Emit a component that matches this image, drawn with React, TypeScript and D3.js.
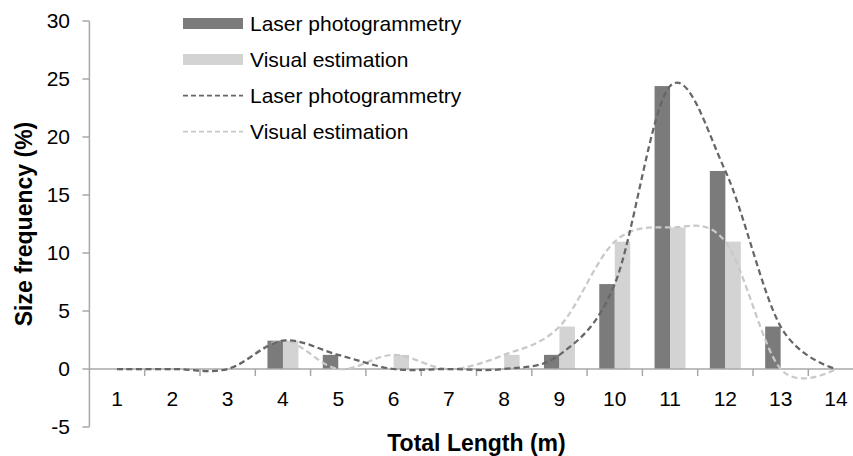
import React from "react";
import * as d3 from "d3";

const categories = [1, 2, 3, 4, 5, 6, 7, 8, 9, 10, 11, 12, 13, 14];
const laserValues = [0, 0, 0, 2.44, 1.22, 0, 0, 0, 1.22, 7.32, 24.39, 17.07, 3.66, 0];
const visualValues = [0, 0, 0, 2.44, 0, 1.22, 0, 1.22, 3.66, 10.98, 12.2, 10.98, 0, 0];
const yTicks = [-5, 0, 5, 10, 15, 20, 25, 30];
const seriesNames = ["Laser photogrammetry", "Visual estimation"];

const W = 853;
const H = 456;
const FONT = "'Liberation Sans', Arial, Helvetica, sans-serif";
const DARK_BAR = "#7b7b7b";
const LIGHT_BAR = "#d3d3d3";
const DARK_LINE = "#666666";
const LIGHT_LINE = "#c9c9c9";
const AXIS = "#a8a8a8";

export default function App() {
  React.useEffect(() => {
    document.body.style.margin = "0";
  }, []);

  const left = 89.4;
  const step = 55.3;
  const x = d3
    .scaleBand<number>()
    .domain(categories)
    .range([left, left + step * categories.length])
    .padding(0);
  const bw = x.bandwidth();
  const inner = d3
    .scaleBand<string>()
    .domain(["laser", "visual"])
    .range([bw * 0.22, bw * 0.78])
    .padding(0);
  const y = d3.scaleLinear().domain([-5, 30]).range([427, 21]);
  const y0 = y(0);

  const cx = (c: number) => (x(c) as number) + bw / 2;
  const line = d3
    .line<number>()
    .x((_, i) => cx(categories[i]))
    .y((v) => y(v))
    .curve(d3.curveCardinal.tension(0));

  const boundaries = categories.map((c) => (x(c) as number) + bw);

  const legendY = [23.5, 59.5, 95.5, 131.5];

  return (
    <svg
      width={W}
      height={H}
      style={{ display: "block", position: "absolute", left: 0, top: 0, background: "#fff" }}
      fontFamily={FONT}
    >
      <rect x={0} y={0} width={W} height={H} fill="#fff" />
      {/* y axis */}
      <line x1={left} x2={left} y1={y(30)} y2={y(-5)} stroke={AXIS} strokeWidth={1.5} />
      {yTicks.map((t) => (
        <g key={t}>
          <line x1={left - 7} x2={left} y1={y(t)} y2={y(t)} stroke={AXIS} strokeWidth={1.5} />
          <text x={70} y={y(t)} dy="0.35em" textAnchor="end" fontSize={21} fill="#000">
            {t}
          </text>
        </g>
      ))}
      {/* bars */}
      {categories.map((c, i) => (
        <g key={c}>
          {laserValues[i] > 0 && (
            <rect
              x={(x(c) as number) + (inner("laser") as number)}
              y={y(laserValues[i])}
              width={inner.bandwidth()}
              height={y0 - y(laserValues[i])}
              fill={DARK_BAR}
            />
          )}
          {visualValues[i] > 0 && (
            <rect
              x={(x(c) as number) + (inner("visual") as number)}
              y={y(visualValues[i])}
              width={inner.bandwidth()}
              height={y0 - y(visualValues[i])}
              fill={LIGHT_BAR}
            />
          )}
        </g>
      ))}
      {/* x axis */}
      <line x1={left} x2={W} y1={y0} y2={y0} stroke={AXIS} strokeWidth={1.5} />
      {boundaries.map((b, i) => (
        <line key={i} x1={b} x2={b} y1={y0} y2={y0 + 7} stroke={AXIS} strokeWidth={1.5} />
      ))}
      {categories.map((c) => (
        <text key={c} x={cx(c)} y={405.5} textAnchor="middle" fontSize={21} fill="#000">
          {c}
        </text>
      ))}
      {/* curves */}
      <path
        d={line(visualValues) || ""}
        fill="none"
        stroke={LIGHT_LINE}
        strokeWidth={2.25}
        strokeDasharray="6,3.5"
      />
      <path
        d={line(laserValues) || ""}
        fill="none"
        stroke={DARK_LINE}
        strokeWidth={2.25}
        strokeDasharray="6,3.5"
      />
      {/* legend */}
      <rect x={183} y={legendY[0] - 5.5} width={60} height={11} fill={DARK_BAR} />
      <rect x={183} y={legendY[1] - 5.5} width={60} height={11} fill={LIGHT_BAR} />
      <line x1={183} x2={243} y1={legendY[2]} y2={legendY[2]} stroke={DARK_LINE} strokeWidth={1.75} strokeDasharray="5,3" />
      <line x1={183} x2={243} y1={legendY[3]} y2={legendY[3]} stroke={LIGHT_LINE} strokeWidth={1.75} strokeDasharray="5,3" />
      {[seriesNames[0], seriesNames[1], seriesNames[0], seriesNames[1]].map((s, i) => (
        <text key={i} x={250} y={legendY[i]} dy="0.35em" fontSize={21} fill="#000">
          {s}
        </text>
      ))}
      {/* axis titles */}
      <text
        x={left + (step * categories.length) / 2}
        y={450.5}
        textAnchor="middle"
        fontSize={23}
        fontWeight="bold"
        fill="#000"
      >
        Total Length (m)
      </text>
      <text
        transform={`translate(31.5, ${(y(30) + y(-5)) / 2}) rotate(-90)`}
        textAnchor="middle"
        fontSize={23}
        fontWeight="bold"
        fill="#000"
      >
        Size frequency (%)
      </text>
    </svg>
  );
}
